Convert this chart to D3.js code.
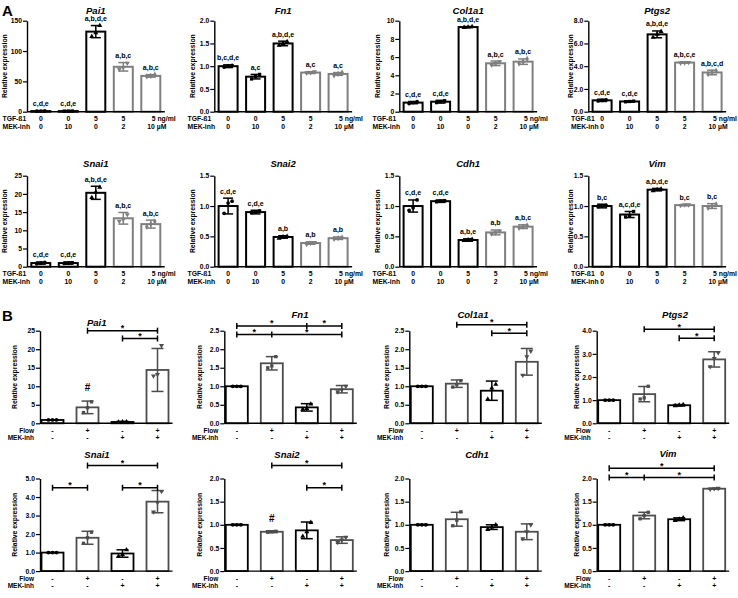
<!DOCTYPE html>
<html><head><meta charset="utf-8">
<script src="https://cdn.jsdelivr.net/npm/d3@7"></script>
<style>
body{margin:0;background:#fff;}
svg text{font-family:"Liberation Sans",Arial,sans-serif;font-weight:bold;fill:#000;}
</style></head><body>
<svg id="c" width="738" height="598"></svg>
<script>
// ---------- Panel A data ----------
const aGenes = ["Pai1","Fn1","Col1a1","Ptgs2","Snai1","Snai2","Cdh1","Vim"];
const aYMax = [150, 2, 10, 8, 25, 1.5, 1.5, 1.5];
const aTicks = [[0,50,100,150],[0,0.5,1,1.5,2],[0,2,4,6,8,10],[0,2,4,6,8],[0,5,10,15,20,25],[0,0.5,1,1.5],[0,0.5,1,1.5],[0,0.5,1,1.5]];
const aTickFmt = ["d",".1f","d",".1f","d",".1f",".1f",".1f"];
const aMeans = [
  [1,1,132,74,59],
  [1.0,0.77,1.5,0.86,0.83],
  [1.0,1.1,9.3,5.32,5.5],
  [1.0,0.9,6.8,4.32,3.45],
  [1.0,1.0,20.3,13.3,11.7],
  [1.0,0.9,0.49,0.39,0.47],
  [1.0,1.08,0.44,0.565,0.66],
  [1.0,0.86,1.27,1.015,1.0]
];
const aErrors = [
  [0.8,0.8,10,7,2],
  [0.03,0.05,0.05,0.02,0.03],
  [0.12,0.15,0.06,0.25,0.3],
  [0.1,0.06,0.3,0.05,0.2],
  [0.3,0.3,1.8,1.6,1.1],
  [0.13,0.03,0.02,0.02,0.02],
  [0.1,0.02,0.02,0.04,0.03],
  [0.03,0.05,0.02,0.01,0.04]
];
const aPoints = [
  [[0.8,1.0,1.2],[0.9,1.0,1.1],[124,130,142],[70,73,80],[58,59,61]],
  [[0.98,1.0,1.02],[0.72,0.78,0.82],[1.46,1.5,1.54],[0.85,0.86,0.88],[0.8,0.83,0.86]],
  [[0.9,1.0,1.1],[1.0,1.1,1.2],[9.25,9.3,9.35],[5.15,5.3,5.5],[5.3,5.5,5.8]],
  [[0.95,1.0,1.05],[0.87,0.9,0.93],[6.55,6.8,7.05],[4.28,4.3,4.33],[3.3,3.45,3.6]],
  [[0.8,1.0,1.2],[0.9,1.0,1.1],[19,20.5,21.8],[12.5,13,14.3],[11,11.7,12.4]],
  [[0.88,1.05,1.08],[0.89,0.9,0.92],[0.47,0.49,0.5],[0.37,0.39,0.4],[0.46,0.47,0.48]],
  [[0.93,0.97,1.1],[1.07,1.08,1.09],[0.43,0.44,0.45],[0.54,0.56,0.59],[0.64,0.66,0.68]],
  [[0.99,1.0,1.01],[0.82,0.84,0.91],[1.25,1.27,1.28],[1.01,1.02,1.02],[0.97,1.0,1.03]]
];
const aLetters = [
  ["c,d,e","c,d,e","a,b,d,e","a,b,c","a,b,c"],
  ["b,c,d,e","a,c","a,b,d,e","a,c","a,c"],
  ["c,d,e","c,d,e","a,b,d,e","a,b,c","a,b,c"],
  ["c,d,e","c,d,e","a,b,d,e","a,b,c,e","a,b,c,d"],
  ["c,d,e","c,d,e","a,b,d,e","a,b,c","a,b,c"],
  ["c,d,e","c,d,e","a,b","a,b","a,b"],
  ["c,d,e","c,d,e","a,b,e","a,b","a,b,c"],
  ["b,c","a,c,d,e","a,b,d,e","b,c","b,c"]
];
const tgfDoses = ["0","0","5","5","5"];
const mekDoses = ["0","10","0","2","10"];
const aColors = ["#000","#000","#000","#7f7f7f","#7f7f7f"];

// ---------- Panel B data ----------
const bGenes = ["Pai1","Fn1","Col1a1","Ptgs2","Snai1","Snai2","Cdh1","Vim"];
const bYMax = [25, 2.5, 2.5, 4, 5, 2, 2, 2];
const bTicks = [[0,5,10,15,20,25],[0,0.5,1,1.5,2,2.5],[0,0.5,1,1.5,2,2.5],[0,1,2,3,4],[0,1,2,3,4,5],[0,0.5,1,1.5,2],[0,0.5,1,1.5,2],[0,0.5,1,1.5,2]];
const bTickFmt = ["d",".1f",".1f",".1f",".1f",".1f",".1f",".1f"];
const bMeans = [
  [0.9,4.3,0.36,14.4],
  [1.0,1.62,0.43,0.92],
  [1.0,1.07,0.88,1.66],
  [1.0,1.26,0.78,2.76],
  [1.0,1.8,0.95,3.75],
  [1.0,0.85,0.88,0.67],
  [1.0,1.12,0.95,0.85],
  [1.0,1.2,1.12,1.78]
];
const bErrors = [
  [0.05,1.7,0.15,5.8],
  [0.01,0.18,0.1,0.1],
  [0.01,0.1,0.26,0.36],
  [0.01,0.33,0.03,0.33],
  [0.01,0.35,0.2,0.6],
  [0.01,0.02,0.18,0.07],
  [0.01,0.15,0.05,0.17],
  [0.01,0.07,0.03,0.01]
];
const bPoints = [
  [[0.9,0.9,0.9],[2.9,4.2,5.8],[0.3,0.35,0.4],[12.8,13.2,21]],
  [[1,1,1],[1.5,1.55,1.8],[0.38,0.4,0.52],[0.85,0.9,1.0]],
  [[1,1,1],[0.98,1.05,1.15],[0.65,0.95,1.05],[1.3,1.8,1.95]],
  [[1,1,1],[1.05,1.1,1.6],[0.76,0.78,0.8],[2.45,2.8,3.05]],
  [[1,1,1],[1.5,1.8,2.1],[0.8,0.9,1.15],[3.2,3.7,4.3]],
  [[1,1,1],[0.84,0.85,0.86],[0.75,0.85,1.05],[0.62,0.67,0.73]],
  [[1,1,1],[0.98,1.1,1.28],[0.9,0.95,1.0],[0.7,0.85,1.0]],
  [[1,1,1],[1.13,1.2,1.27],[1.09,1.12,1.15],[1.77,1.78,1.79]]
];
// significance brackets: y value, bar indices on the line; stars between consecutive indices
const bBrackets = [
  [{y:25.0,pts:[1,3]},{y:22.9,pts:[2,3]}],
  [{y:2.63,pts:[0,2,3]},{y:2.4,pts:[0,1,3]}],
  [{y:2.66,pts:[1,3]},{y:2.43,pts:[2,3]}],
  [{y:4.06,pts:[1,3]},{y:3.67,pts:[2,3]}],
  [{y:5.7,pts:[1,3]},{y:4.5,pts:[0,1]},{y:4.5,pts:[2,3]}],
  [{y:2.28,pts:[1,3]},{y:1.8,pts:[2,3]}],
  [],
  [{y:2.22,pts:[0,3]},{y:2.02,pts:[0,1,3]}]
];
const bHash = [[1,8.8],null,null,null,null,[1,1.05],null,null];
const flowSigns = ["-","+","-","+"];
const mekSigns = ["-","-","+","+"];
const bColors = ["#000","#4d4d4d","#000","#4d4d4d"];

// ---------- layout ----------
const svg = d3.select("#c");
const aAxisX = [27, 214.3, 399.3, 588.3];
const aLabelX = [5, 192.3, 378, 570.5];
const aRowTop = [20.7, 175.7];
const aTitleY = [13.5, 166.5];
const aH = 91;
const bAxisX = [40, 224.3, 409.3, 596.7];
const bLabelX = [15, 200, 386.7, 576.7];
const bRowTop = [330.7, 478.5];
const bTitleX = [96.7, 300, 473, 675, 97, 287, 477, 668];
const bTitleY = [326, 318, 318, 318, 458, 458, 458, 457];
const bH = 92.6;
const FS = 6.8;

const symbols = [d3.symbolCircle, d3.symbolSquare, d3.symbolTriangle, d3.symbolTriangle, d3.symbolDiamond];

svg.append("text").attr("x",2).attr("y",16).attr("font-size",15).text("A");
svg.append("text").attr("x",2).attr("y",321).attr("font-size",15).text("B");

function yAxis(g, y, ticks, fmt){
  g.call(d3.axisLeft(y).tickValues(ticks).tickFormat(d3.format(fmt)).tickSize(4).tickSizeOuter(0).tickPadding(1));
  g.select(".domain").attr("stroke","#000").attr("stroke-width",1.4);
  g.selectAll(".tick line").attr("stroke","#000").attr("stroke-width",1.2);
  g.selectAll(".tick text").attr("font-size",FS).attr("font-family","Liberation Sans, Arial").attr("font-weight","bold").attr("fill","#000");
}

// Panel A
aGenes.forEach((gene, k) => {
  const col = k % 4, row = Math.floor(k / 4);
  const ax = aAxisX[col], top = aRowTop[row], bot = top + aH;
  const x = d3.scalePoint().domain(d3.range(5)).range([ax + 13.8, ax + 13.8 + 4*27.5]);
  const y = d3.scaleLinear().domain([0, aYMax[k]]).range([bot, top]);
  const g = svg.append("g");
  const bw = 19;
  aMeans[k].forEach((m, i) => {
    const cx = x(i), c = aColors[i];
    g.append("rect").attr("x", cx - bw/2).attr("y", y(m)).attr("width", bw).attr("height", bot - y(m))
      .attr("fill","#fff").attr("stroke", c).attr("stroke-width", 2);
    const e = aErrors[k][i];
    g.append("line").attr("x1",cx).attr("x2",cx).attr("y1",y(m-e)).attr("y2",y(m+e)).attr("stroke",c).attr("stroke-width",1.5);
    [m-e, m+e].forEach(v => g.append("line").attr("x1",cx-5).attr("x2",cx+5).attr("y1",y(v)).attr("y2",y(v)).attr("stroke",c).attr("stroke-width",1.5));
    aPoints[k][i].forEach((p, j) => {
      g.append("path").attr("d", d3.symbol().type(symbols[i]).size(11)())
        .attr("transform", `translate(${cx - 4 + j*4},${y(p)})${i>=3?" rotate(180)":""}`).attr("fill", c);
    });
    const topV = Math.max(m + e, d3.max(aPoints[k][i]));
    g.append("text").attr("x", cx).attr("y", y(topV) - 4.5).attr("text-anchor","middle").attr("font-size",7).text(aLetters[k][i]);
    // dose labels
    if (i < 4) {
      g.append("text").attr("x",cx).attr("y",bot+9.3).attr("text-anchor","middle").attr("font-size",FS).text(tgfDoses[i]);
      g.append("text").attr("x",cx).attr("y",bot+17.3).attr("text-anchor","middle").attr("font-size",FS).text(mekDoses[i]);
    } else {
      g.append("text").attr("x",cx+1).attr("y",bot+9.3).attr("font-size",FS).text(tgfDoses[i] + " ng/ml");
      g.append("text").attr("x",cx-3.5).attr("y",bot+17.3).attr("font-size",FS).text(mekDoses[i] + " \u00b5M");
    }
  });
  // axes
  g.append("line").attr("x1",ax).attr("x2",ax + 13.8 + 4*27.5 + 14).attr("y1",bot).attr("y2",bot).attr("stroke","#000").attr("stroke-width",1.4);
  yAxis(g.append("g").attr("transform",`translate(${ax},0)`), y, aTicks[k], aTickFmt[k]);
  g.append("text").attr("transform",`translate(${aLabelX[col]},${(top+bot)/2}) rotate(-90)`).attr("text-anchor","middle").attr("dy","0.35em").attr("font-size",FS).text("Relative expression");
  g.append("text").attr("x", ax + 13.8 + 2*27.5).attr("y", aTitleY[row]).attr("text-anchor","middle").attr("font-size",9.5).attr("font-style","italic").text(gene);
  const lx = col === 3 ? 571 : col*185 + 2.5;
  g.append("text").attr("x",lx).attr("y",bot+9.3).attr("font-size",FS).text("TGF-\u00df1");
  g.append("text").attr("x",lx).attr("y",bot+17.3).attr("font-size",FS).text("MEK-inh");
});

// Panel B
bGenes.forEach((gene, k) => {
  const col = k % 4, row = Math.floor(k / 4);
  const ax = bAxisX[col], top = bRowTop[row], bot = top + bH;
  const x = d3.scalePoint().domain(d3.range(4)).range([ax + 12.5, ax + 12.5 + 3*35]);
  const y = d3.scaleLinear().domain([0, bYMax[k]]).range([bot, top]);
  const g = svg.append("g");
  const bw = 22;
  bMeans[k].forEach((m, i) => {
    const cx = x(i), c = bColors[i];
    g.append("rect").attr("x", cx - bw/2).attr("y", y(m)).attr("width", bw).attr("height", bot - y(m))
      .attr("fill","#fff").attr("stroke", c).attr("stroke-width", 1.8);
    const e = bErrors[k][i];
    g.append("line").attr("x1",cx).attr("x2",cx).attr("y1",y(m-e)).attr("y2",y(m+e)).attr("stroke",c).attr("stroke-width",1.5);
    [m-e, m+e].forEach(v => g.append("line").attr("x1",cx-6).attr("x2",cx+6).attr("y1",y(v)).attr("y2",y(v)).attr("stroke",c).attr("stroke-width",1.5));
    bPoints[k][i].forEach((p, j) => {
      g.append("path").attr("d", d3.symbol().type(symbols[i]).size(11)())
        .attr("transform", `translate(${cx - 4 + j*4},${y(p)})${i===3?" rotate(180)":""}`).attr("fill", c);
    });
    g.append("text").attr("x",cx).attr("y",bot+9.5).attr("text-anchor","middle").attr("font-size",7).text(flowSigns[i]);
    g.append("text").attr("x",cx).attr("y",bot+17).attr("text-anchor","middle").attr("font-size",7).text(mekSigns[i]);
  });
  g.append("line").attr("x1",ax).attr("x2",ax + 12.5 + 3*35 + 15).attr("y1",bot).attr("y2",bot).attr("stroke","#000").attr("stroke-width",1.4);
  yAxis(g.append("g").attr("transform",`translate(${ax},0)`), y, bTicks[k], bTickFmt[k]);
  g.append("text").attr("transform",`translate(${bLabelX[col]},${(top+bot)/2}) rotate(-90)`).attr("text-anchor","middle").attr("dy","0.35em").attr("font-size",FS).text("Relative expression");
  g.append("text").attr("x", bTitleX[k]).attr("y", bTitleY[k]).attr("text-anchor","middle").attr("font-size",9.5).attr("font-style","italic").text(gene);
  g.append("text").attr("x",ax-6).attr("y",bot+9.5).attr("text-anchor","end").attr("font-size",6.5).text("Flow");
  g.append("text").attr("x",ax-6).attr("y",bot+17).attr("text-anchor","end").attr("font-size",6.5).text("MEK-inh");
  bBrackets[k].forEach(br => {
    const yy = y(br.y);
    const xs = br.pts.map(i => x(i));
    g.append("line").attr("x1",xs[0]).attr("x2",xs[xs.length-1]).attr("y1",yy).attr("y2",yy).attr("stroke","#000").attr("stroke-width",1.5);
    xs.forEach(xx => g.append("line").attr("x1",xx).attr("x2",xx).attr("y1",yy-3).attr("y2",yy+3).attr("stroke","#000").attr("stroke-width",1.5));
    for (let j = 0; j < xs.length - 1; j++) {
      g.append("text").attr("x",(xs[j]+xs[j+1])/2).attr("y",yy+0.5).attr("text-anchor","middle").attr("font-size",9).text("*");
    }
  });
  if (bHash[k]) {
    g.append("text").attr("x", x(bHash[k][0])).attr("y", y(bHash[k][1])).attr("text-anchor","middle").attr("font-size",10).text("#");
  }
});
</script>
</body></html>
